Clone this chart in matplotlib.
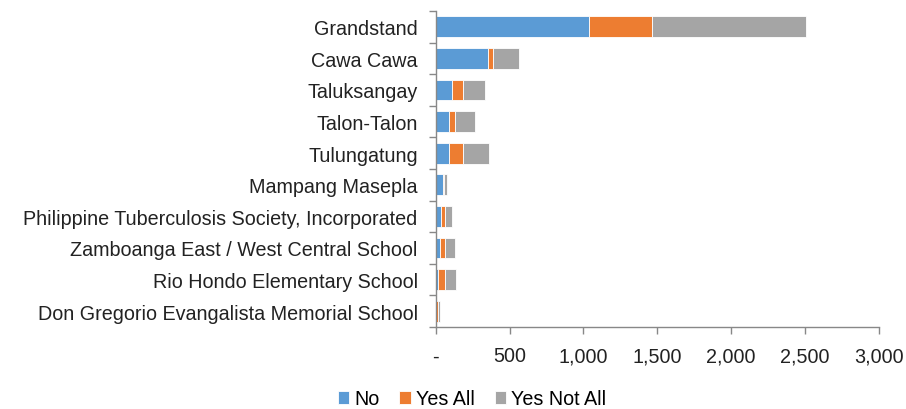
import matplotlib
matplotlib.use("Agg")
import matplotlib.pyplot as plt
import numpy as np
from matplotlib.ticker import FuncFormatter, FixedLocator

plt.rcParams['font.family'] = ['Liberation Sans', 'DejaVu Sans']

categories = ["Grandstand", "Cawa Cawa", "Taluksangay", "Talon-Talon", "Tulungatung",
              "Mampang Masepla", "Philippine Tuberculosis Society, Incorporated",
              "Zamboanga East / West Central School", "Rio Hondo Elementary School",
              "Don Gregorio Evangalista Memorial School"]
no_vals = [1040, 354, 113, 88, 88, 49, 36, 31, 16, 2]
yes_all = [427, 34, 74, 45, 99, 7, 27, 34, 49, 13]
yes_not_all = [1043, 178, 149, 135, 176, 23, 47, 68, 75, 12]
series_names = ["No", "Yes All", "Yes Not All"]
colors = ["#5B9BD5", "#ED7D31", "#A5A5A5"]

fig = plt.figure(figsize=(9.06, 4.10), dpi=100)
ax = fig.add_axes([435.7/906, 1-328/410, (878.7-435.7)/906, (328-12)/410])

y = np.arange(len(categories))
left = np.zeros(len(categories))
for vals, name, c in zip([no_vals, yes_all, yes_not_all], series_names, colors):
    ax.barh(y, vals, left=left, height=0.66, color=c, label=name,
            edgecolor="white", linewidth=0.6)
    left += np.array(vals)

fs = 14.2
ax.set_ylim(len(categories)-0.5, -0.5)
ax.set_xlim(0, 3000)
ax.set_yticks(y)
ax.set_yticklabels(categories, fontsize=fs, color="#222222")
ax.yaxis.set_minor_locator(FixedLocator(np.arange(-0.5, len(categories), 1)))
ax.tick_params(axis='y', which='major', length=0, pad=13)
ax.tick_params(axis='y', which='minor', length=5, color="#888888", width=1)
ax.set_xticks(np.arange(0, 3001, 500))
ax.xaxis.set_major_formatter(FuncFormatter(lambda v, p: "-" if v == 0 else f"{int(v):,}"))
ax.tick_params(axis='x', length=5, color="#888888", width=1, labelsize=fs,
               labelcolor="#222222", pad=9)
for s in ["top", "right"]:
    ax.spines[s].set_visible(False)
for s in ["left", "bottom"]:
    ax.spines[s].set_color("#888888")
    ax.spines[s].set_linewidth(1)

fig.legend(loc="center", bbox_to_anchor=(472/906, 1-400/410), ncol=3, frameon=False,
           fontsize=fs, handlelength=0.6, handleheight=0.6, handletextpad=0.25,
           columnspacing=1.0)
fig.savefig("out.png", dpi=100)
